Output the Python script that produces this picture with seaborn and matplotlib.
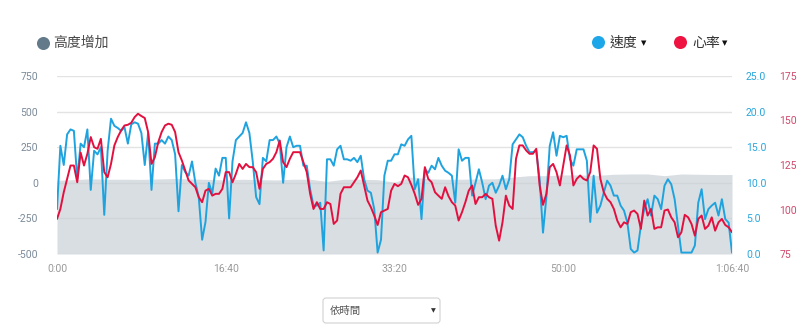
import numpy as np
import pandas as pd
import matplotlib
matplotlib.use("Agg")
import matplotlib.pyplot as plt
import seaborn as sns
from matplotlib.patches import FancyBboxPatch

# ---------------- data ----------------
sample_step_s = 20
speed_kmh = [
    6.3, 15.2, 12.5, 16.8, 17.5, 17.3, 10.5, 15.5, 15.0, 17.5,
    9.0, 14.5, 14.0, 15.0, 5.5, 14.5, 19.0, 18.0, 17.7, 17.3,
    17.8, 15.5, 18.2, 18.5, 18.3, 17.0, 12.5, 17.0, 9.0, 15.5,
    15.5, 16.0, 15.5, 16.5, 16.0, 14.0, 6.0, 12.5, 11.5, 11.0,
    13.0, 10.0, 8.0, 2.0, 4.5, 10.0, 8.5, 12.0, 11.0, 13.5,
    13.5, 5.0, 13.0, 16.0, 16.5, 17.0, 18.5, 17.0, 13.0, 8.0,
    7.0, 13.5, 13.0, 16.0, 16.0, 16.5, 15.5, 10.0, 15.0, 16.5, 15.0,
    15.2, 15.2, 12.4, 12.4, 9.1, 6.8, 6.8, 7.2, 0.5, 13.3,
    13.3, 12.4, 14.7, 15.2, 13.3, 13.3, 13.1, 13.5, 12.9, 13.8,
    10.5, 8.9, 8.6, 6.3, 0.2, 2.0, 11.0, 13.1, 13.1, 14.0,
    14.0, 15.4, 15.2, 16.1, 16.6, 9.1, 10.5, 4.9, 11.9, 11.4,
    12.4, 11.9, 13.5, 12.4, 11.7, 11.4, 11.0, 7.2, 14.7, 13.1,
    13.5, 13.5, 8.2, 10.0, 11.9, 10.0, 7.7, 9.6, 10.0, 8.6,
    9.6, 11.0, 9.1, 10.5, 15.4, 16.1, 16.8,
    16.4, 15.2, 14.3, 14.3, 14.5, 10.5, 3.0, 8.0, 15.2, 17.1,
    13.8, 16.6, 16.4, 16.6, 13.3, 12.4, 14.7, 14.7, 14.7, 13.1,
    4.5, 11.0, 5.8, 6.8, 8.6, 10.3, 9.6, 8.2, 8.2, 6.8,
    6.1, 4.4, 0.7, 0.2, 0.5, 4.0, 6.3, 7.7, 5.4, 8.2,
    7.7, 6.3, 9.6, 10.5, 9.8, 7.7, 4.0, 0.2, 0.2, 0.2,
    0.2, 1.2, 7.2, 9.1, 4.9, 6.3, 6.8, 7.2, 5.4, 7.7,
    4.9, 4.4, 0.2,
]
heart_rate_bpm = [
    94.7, 100.3, 109.7, 117.2, 124.7, 124.7, 115.3, 132.0, 124.7, 131.3,
    140.7, 135.0, 134.1, 139.7, 121.0, 118.1, 125.6, 136.0, 140.7, 144.4,
    147.2, 147.6, 148.7, 151.9, 153.8, 152.5, 151.4, 143.5, 125.6, 129.4,
    137.8, 143.5, 147.2, 148.2, 147.6, 143.5, 132.2, 127.5, 121.9, 116.3,
    114.4, 112.5, 106.9, 104.1, 110.6, 111.6, 107.8, 108.8, 108.8, 111.6,
    121.0, 121.0, 115.3, 120.0, 125.6, 122.8, 125.6, 123.8, 123.8, 121.0,
    111.6, 122.8, 125.6, 126.6, 128.5, 132.2, 138.8, 126.6, 123.8, 128.5, 132.2,
    132.2, 132.2, 126.6, 121.0, 108.8, 100.3, 104.1, 100.3, 100.3, 104.1,
    103.1, 91.9, 93.8, 108.8, 112.5, 112.5, 112.5, 115.3, 118.1, 121.9,
    113.5, 105.0, 101.3, 96.6, 91.3, 98.5, 99.4, 100.3, 110.6, 114.4,
    113.1, 114.4, 119.1, 118.1, 113.8, 108.8, 102.6, 106.0, 123.8, 117.2,
    115.3, 109.7, 107.8, 106.0, 112.5, 107.5, 104.1, 102.2, 93.8, 98.5,
    104.1, 110.6, 113.5, 103.1, 106.9, 106.9, 108.8, 106.9, 106.0, 90.9,
    82.5, 92.8, 107.8, 102.2, 100.3, 128.5, 136.0,
    136.0, 133.2, 131.3, 131.3, 134.1, 113.5, 102.6, 108.8, 123.8, 125.6,
    121.0, 113.5, 124.7, 136.0, 130.3, 113.5, 117.2, 119.1, 117.2, 116.3,
    121.0, 136.0, 134.1, 117.2, 109.7, 106.0, 104.1, 100.3, 93.8, 90.0,
    92.8, 91.9, 98.5, 99.4, 97.5, 89.1, 105.0, 96.6, 100.3, 89.1,
    90.0, 90.0, 99.4, 100.0, 95.6, 92.8, 84.4, 87.2, 97.0, 95.6,
    91.9, 85.3, 94.7, 96.6, 89.1, 90.9, 95.6, 88.1, 92.8, 94.7,
    91.3, 90.0, 87.2,
]
elev_step_s = 100
elevation_m = [
    18, 22, 28, 25, 25, 24, 27, 30, 27, 24,
    20, 25, 22, 20, 25, 25, 10, 25, 25, 22,
    5, 40, 28, 25, 25, 27, 28, 40, 50, 50,
    55, 55, 52, 60, 62, 62, 50, 62, 60, 58, 58,
]
x_tick_seconds = [0, 1000, 2000, 3000, 4000]
x_tick_labels = ["0:00", "16:40", "33:20", "50:00", "1:06:40"]
elev_ticks = [-500, -250, 0, 250, 500, 750]
speed_ticks = [0, 5, 10, 15, 20, 25]
hr_ticks = [75, 100, 125, 150, 175]
legend_elev = "高度增加"
legend_speed = "速度"
legend_hr = "心率"
dropdown_label = "依時間"

# ---------------- style ----------------
sns.set_theme(style="white")
plt.rcParams['font.family'] = ['Roboto', 'DejaVu Sans']
cjk = ['Noto Sans CJK TC', 'DejaVu Sans']

BLUE = "#1fa3df"
RED = "#e3103f"
GRAY_DOT = "#627a8a"

t_line = np.arange(len(speed_kmh)) * sample_step_s
df = pd.DataFrame({"t": t_line, "speed": speed_kmh, "hr": heart_rate_bpm})
t_elev = np.arange(len(elevation_m)) * elev_step_s

W, H = 804, 332
fig = plt.figure(figsize=(W / 100, H / 100), dpi=100)
ax = fig.add_axes([57 / W, 1 - 254 / H, 675 / W, 178 / H])

ax.fill_between(t_elev, -500, elevation_m, color="#c9d0d7", alpha=0.7, lw=0, zorder=2)
ax.set_xlim(0, 4000)
ax.set_ylim(-500, 750)
ax.set_yticks(elev_ticks)
ax.set_yticklabels([str(v) for v in elev_ticks])
ax.set_xticks(x_tick_seconds)
ax.set_xticklabels(x_tick_labels)
ax.set_axisbelow(True)
ax.grid(axis='y', color='#e3e3e3', lw=1)
ax.grid(axis='x', visible=False)
ax.tick_params(axis='y', length=0, pad=13.5, labelsize=7.5, labelcolor='#7b8a99')
ax.tick_params(axis='x', length=0, pad=7, labelsize=7.5, labelcolor='#9a9a9a')
for s in ax.spines.values():
    s.set_visible(False)
ax.set_xlabel("")
ax.set_ylabel("")

ax_s = ax.twinx()
sns.lineplot(data=df, x="t", y="speed", ax=ax_s, color=BLUE, lw=1.4)
ax_s.set_ylim(0, 25)
ax_s.set_yticks(speed_ticks)
ax_s.set_yticklabels([f"{v:.1f}" for v in speed_ticks])
ax_s.tick_params(axis='y', length=0, pad=10, labelsize=7.5, labelcolor='#2aa6dc')

ax_h = ax.twinx()
sns.lineplot(data=df, x="t", y="hr", ax=ax_h, color=RED, lw=1.4)
ax_h.set_ylim(75, 175)
ax_h.set_yticks(hr_ticks)
ax_h.set_yticklabels([str(v) for v in hr_ticks])
ax_h.tick_params(axis='y', length=0, pad=34, labelsize=7.5, labelcolor='#cf4a6c')

for a in (ax_s, ax_h):
    a.set_xlim(0, 4000)
    a.set_xlabel("")
    a.set_ylabel("")
    a.grid(False)
    for s in a.spines.values():
        s.set_visible(False)
    a.tick_params(axis='x', length=0, labelbottom=False)

# ---------------- overlay: legend & dropdown ----------------
ov = fig.add_axes([0, 0, 1, 1])
ov.set_xlim(0, W)
ov.set_ylim(H, 0)
ov.axis('off')
ov.patch.set_visible(False)

ov.scatter([43], [43], s=88, color=GRAY_DOT, lw=0)
ov.text(53, 43, legend_elev, fontsize=10, family=cjk, va='center', ha='left', color='#4a4a4a')

ov.scatter([598], [42], s=88, color="#1ea7e8", lw=0)
ov.text(610, 43, legend_speed, fontsize=10, family=cjk, va='center', ha='left', color='#333333')
ov.text(641, 43, "▼", fontsize=5, family=['DejaVu Sans'], va='center', ha='left', color='#111111')

ov.scatter([680], [42], s=88, color="#ee1340", lw=0)
ov.text(692, 43, legend_hr, fontsize=10, family=cjk, va='center', ha='left', color='#333333')
ov.text(722, 43, "▼", fontsize=5, family=['DejaVu Sans'], va='center', ha='left', color='#111111')

box = FancyBboxPatch((323, 298), 117, 25, boxstyle="round,pad=0,rounding_size=3",
                     facecolor='white', edgecolor='#d2d2d2', lw=0.8)
ov.add_patch(box)
ov.text(330, 311, dropdown_label, fontsize=7.5, family=cjk, va='center', ha='left', color='#555555')
ov.text(433, 311, "▼", fontsize=4.5, family=['DejaVu Sans'], va='center', ha='center', color='#333333')

fig.savefig("out.png", dpi=100, facecolor='white')
